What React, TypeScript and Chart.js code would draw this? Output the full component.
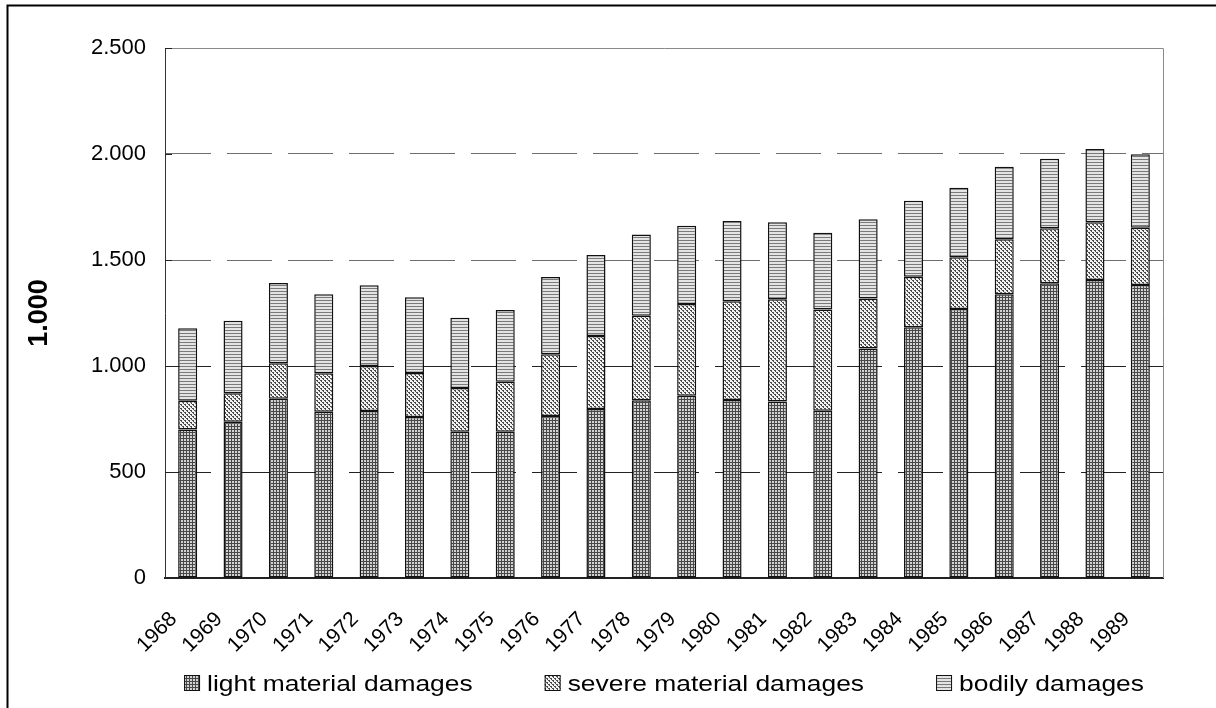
import React, { useEffect, useRef } from 'react';
import { Chart, registerables } from 'chart.js';

Chart.register(...registerables);

const years = ['1968', '1969', '1970', '1971', '1972', '1973', '1974', '1975', '1976', '1977', '1978', '1979', '1980', '1981', '1982', '1983', '1984', '1985', '1986', '1987', '1988', '1989'];
const lightMaterial = [701, 737, 846, 784, 788, 759, 690, 690, 764, 797, 838, 860, 840, 832, 789, 1083, 1183, 1269, 1338, 1390, 1406, 1382];
const severeMaterial = [135, 134, 167, 182, 212, 208, 206, 236, 291, 345, 399, 432, 465, 483, 478, 235, 238, 244, 260, 260, 272, 270];
const bodily = [342, 343, 379, 372, 381, 357, 332, 338, 365, 382, 383, 370, 379, 363, 362, 374, 359, 328, 342, 328, 346, 347];
const seriesNames = ['light material damages', 'severe material damages', 'bodily damages'];
const yMin = 0;
const yMax = 2500;
const yStep = 500;
const yAxisTitle = '1.000';

const FONT = '"Liberation Sans", Arial, Helvetica, sans-serif';

function makePattern(kind: string): CanvasPattern | string {
  const c = document.createElement('canvas');
  const g = c.getContext('2d');
  if (!g) return '#999';
  if (kind === 'light') {
    c.width = 3; c.height = 3;
    g.fillStyle = '#d2d2d2'; g.fillRect(0, 0, 3, 3);
    g.fillStyle = '#484848'; g.fillRect(0, 0, 3, 1); g.fillRect(0, 0, 1, 3);
  } else if (kind === 'severe') {
    c.width = 4; c.height = 4;
    g.fillStyle = '#f2f2f2'; g.fillRect(0, 0, 4, 4);
    g.fillStyle = '#4a4a4a';
    for (let y = 0; y < 4; y++) {
      for (let x = 0; x < 4; x++) {
        const d = (x - y + 8) % 4;
        if (d === 0 || (d === 1 && y % 2 === 0)) g.fillRect(x, y, 1, 1);
      }
    }
  } else {
    c.width = 4; c.height = 3;
    g.fillStyle = '#e4e4e4'; g.fillRect(0, 0, 4, 3);
    g.fillStyle = '#7a7a7a'; g.fillRect(0, 0, 4, 1);
  }
  const p = g.createPattern(c, 'repeat');
  return p || '#999';
}

function fmtThousands(v: number): string {
  return String(v).replace(/\B(?=(\d{3})+(?!\d))/g, '.');
}

export default function App() {
  const ref = useRef<HTMLCanvasElement | null>(null);

  useEffect(() => {
    document.body.style.margin = '0';
    document.body.style.overflow = 'hidden';
    const canvas = ref.current;
    if (!canvas) return;
    const patterns = [makePattern('light'), makePattern('severe'), makePattern('bodily')];
    const values = [lightMaterial, severeMaterial, bodily];

    const decor = {
      id: 'decor',
      beforeDraw(chart: any) {
        const ctx = chart.ctx;
        ctx.save();
        ctx.fillStyle = '#ffffff';
        ctx.fillRect(0, 0, chart.width, chart.height);
        ctx.restore();
      },
      afterDraw(chart: any) {
        const ctx = chart.ctx;
        const a = chart.chartArea;
        const ys = chart.scales.y;
        ctx.save();
        ctx.strokeStyle = '#8a8a8a';
        ctx.lineWidth = 1;
        ctx.beginPath();
        ctx.moveTo(a.left, a.top + 0.5);
        ctx.lineTo(a.right + 0.5, a.top + 0.5);
        ctx.lineTo(a.right + 0.5, a.bottom);
        ctx.stroke();
        ctx.strokeStyle = '#222';
        for (let v = yMin; v <= yMax; v += yStep) {
          const py = Math.round(ys.getPixelForValue(v)) + 0.5;
          ctx.beginPath();
          ctx.moveTo(a.left, py);
          ctx.lineTo(a.left + 7, py);
          ctx.stroke();
        }
        ctx.strokeStyle = '#000';
        ctx.lineWidth = 2;
        ctx.strokeRect(7.5, 5.5, chart.width + 20, chart.height + 20);
        const sx = 1.2;
        const box = 16;
        const gapBT = 7;
        const gapItems = 72;
        ctx.font = '22px ' + FONT;
        const labels = chart.data.datasets.map((d: any) => d.label as string);
        const widths = labels.map((l: string) => box + gapBT + ctx.measureText(l).width * sx);
        const total = widths.reduce((s: number, w: number) => s + w, 0) + gapItems * (labels.length - 1);
        let x = (a.left + a.right) / 2 - total / 2;
        const boxTop = chart.height - 33;
        const baseline = chart.height - 17;
        labels.forEach((l: string, i: number) => {
          ctx.fillStyle = patterns[i];
          ctx.fillRect(x, boxTop, box, box);
          ctx.strokeStyle = '#111';
          ctx.lineWidth = 1;
          ctx.strokeRect(x + 0.5, boxTop + 0.5, box - 1, box - 1);
          ctx.save();
          ctx.translate(x + box + gapBT, baseline);
          ctx.scale(sx, 1);
          ctx.fillStyle = '#000';
          ctx.textAlign = 'left';
          ctx.textBaseline = 'alphabetic';
          ctx.fillText(l, 0, 0);
          ctx.restore();
          x += widths[i] + gapItems;
        });
        ctx.restore();
      },
    };

    const chart = new Chart(canvas, {
      type: 'bar',
      data: {
        labels: years,
        datasets: seriesNames.map((name, i) => ({
          label: name,
          data: values[i],
          backgroundColor: patterns[i] as any,
          borderColor: '#111111',
          borderWidth: 1.5,
          borderSkipped: false,
          barPercentage: 0.42,
          categoryPercentage: 1,
        })),
      },
      options: {
        responsive: false,
        animation: false,
        events: [],
        layout: { padding: { left: 0, right: 53, top: 48, bottom: 0 } },
        plugins: {
          legend: { display: false },
          tooltip: { enabled: false },
          title: { display: false },
        },
        scales: {
          x: {
            stacked: true,
            grid: { display: false, drawTicks: false },
            border: { display: true, color: '#222', width: 2 },
            ticks: {
              autoSkip: false,
              minRotation: 45,
              maxRotation: 45,
              padding: 29,
              labelOffset: -14,
              color: '#000',
              font: { family: FONT, size: 21 },
            },
            afterFit: (s: any) => { s.height = 130; },
          },
          y: {
            stacked: true,
            min: yMin,
            max: yMax,
            ticks: {
              stepSize: yStep,
              padding: 19,
              color: '#000',
              font: { family: FONT, size: 22 },
              callback: (v: any) => fmtThousands(Number(v)),
            },
            grid: {
              drawTicks: false,
              lineWidth: 1,
              color: (c: any) => {
                const v = c.tick ? c.tick.value : 0;
                if (v <= 0 || v >= yMax) return 'rgba(0,0,0,0)';
                return v <= 1000 ? '#222222' : '#6e6e6e';
              },
            },
            border: { display: true, color: '#333', width: 1, dash: [45, 16] },
            title: {
              display: true,
              text: yAxisTitle,
              color: '#000',
              font: { family: FONT, size: 27, weight: 'bold' },
              padding: { top: 23, bottom: 0 },
            },
            afterFit: (s: any) => { s.width = 165; },
          },
        },
      },
      plugins: [decor],
    } as any);

    return () => chart.destroy();
  }, []);

  return <canvas ref={ref} width={1216} height={708} style={{ display: 'block' }} />;
}
